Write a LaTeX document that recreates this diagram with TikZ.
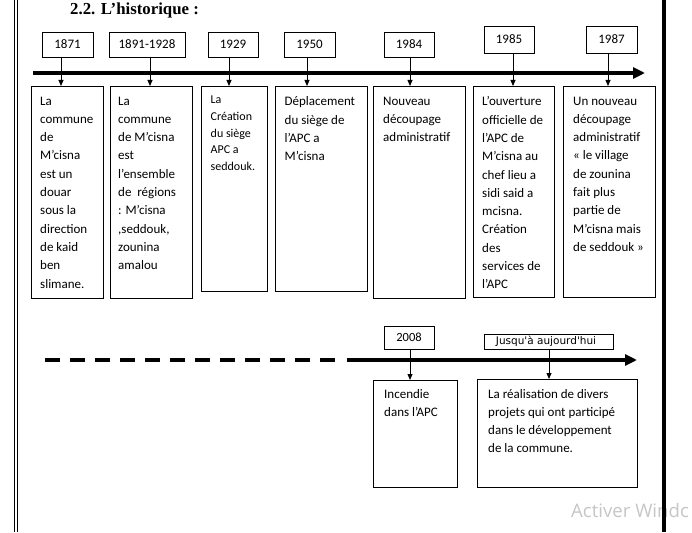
\documentclass[tikz,border=0pt]{standalone}
\usepackage{fontspec}
\setmainfont{Carlito}
\newfontfamily\titlefont{Liberation Serif}
\newfontfamily\jusqfont{DejaVu Sans}
\newfontfamily\wmfont{Open Sans}
\usetikzlibrary{arrows.meta,positioning}

\begin{document}
\begin{tikzpicture}[
  x=1pt, y=-1pt, >=Stealth,
  every node/.style={font=\fontsize{13}{15}\selectfont},
  yearbox/.style={draw, line width=0.8pt, minimum width=50pt, minimum height=25pt, inner sep=0pt},
  descbox/.style={draw, line width=0.8pt, anchor=north west, inner sep=0pt},
  desctext/.style={align=left, inner sep=0pt, font=\fontsize{13}{18.3}\selectfont},
  timeline/.style={line width=4pt, -{Triangle[length=12pt,width=11pt]}},
  evarrow/.style={line width=0.8pt, -{Triangle[length=6pt,width=5pt]}}
]
  \path[use as bounding box, fill=white] (0,0) rectangle (692,532);

  % Page frame
  \draw[line width=1pt] (14,0) -- (14,532);
  \draw[line width=1pt] (17,0) -- (17,532);

  % Watermark
  \node[anchor=base west, inner sep=0pt, text=gray!45, font=\wmfont\fontsize{18.6}{20}\selectfont] (wm) at (571,517) {Activer Windc};
  \draw[line width=4pt] (664,0) -- (664,532);

  % Title
  \node[anchor=base west, inner sep=0pt, font=\titlefont\bfseries\fontsize{16.8}{18}\selectfont] (title) at (70,14.5) {2.2. L’historique :};

  % Top year boxes
  \node[yearbox, minimum width=51pt] (y1871) at (67.5,44.5) {1871};
  \node[yearbox, minimum width=76pt] (y1891) at (147,44.5) {1891-1928};
  \node[yearbox] (y1929) at (233,44.5) {1929};
  \node[yearbox, minimum width=51pt] (y1950) at (309.5,44.5) {1950};
  \node[yearbox] (y1984) at (409,44.5) {1984};
  \node[yearbox, minimum height=27pt] (y1985) at (509,39.5) {1985};
  \node[yearbox, minimum width=51pt, minimum height=27pt] (y1987) at (611.5,39.5) {1987};

  % First time line
  \coordinate (tl1start) at (33,73);
  \coordinate (tl1end) at (645,73);
  \draw[timeline] (tl1start) -- (tl1end);

  % Description boxes
  \node[descbox, minimum width=72pt, minimum height=212pt] (d1871) at (31,86) {};
  \node[descbox, minimum width=82pt, minimum height=212pt] (d1891) at (110,86) {};
  \node[descbox, minimum width=66pt, minimum height=205pt] (d1929) at (201,86) {};
  \node[descbox, minimum width=92pt, minimum height=205pt] (d1950) at (275,86) {};
  \node[descbox, minimum width=92pt, minimum height=212pt] (d1984) at (373,86) {};
  \node[descbox, minimum width=81pt, minimum height=211pt] (d1985) at (473,86) {};
  \node[descbox, minimum width=92pt, minimum height=211pt] (d1987) at (563,86) {};

  \node[desctext, below right=10.5pt and 9pt of d1871.north west] (t1871)
    {La\\commune\\de\\M’cisna\\est un\\douar\\sous la\\direction\\de kaid\\ben\\slimane.};
  \node[desctext, below right=10.5pt and 8pt of d1891.north west] (t1891)
    {La\\commune\\de M’cisna\\est\\l’ensemble\\de \ régions\\: M’cisna\\,seddouk,\\zounina\\amalou};
  \node[desctext, below right=9.5pt and 9.5pt of d1929.north west,
        font=\fontsize{12}{16.8}\selectfont] (t1929)
    {La\\Création\\du siège\\APC a\\seddouk.};
  \node[desctext, below right=10.5pt and 9.5pt of d1950.north west] (t1950)
    {Déplacement\\du siège de\\l’APC a\\M’cisna};
  \node[desctext, below right=10.5pt and 10pt of d1984.north west] (t1984)
    {Nouveau\\découpage\\administratif};
  \node[desctext, below right=10.5pt and 9pt of d1985.north west] (t1985)
    {L’ouverture\\officielle de\\l’APC de\\M’cisna au\\chef lieu a\\sidi said a\\mcisna.\\Création\\des\\services de\\l’APC};
  \node[desctext, below right=10.5pt and 10pt of d1987.north west] (t1987)
    {Un nouveau\\découpage\\administratif\\« le village\\de zounina\\fait plus\\partie de\\M’cisna mais\\de seddouk »};

  % Year to description arrows
  \draw[evarrow] ([xshift=-6.5pt]y1871.south) -- ([xshift=-6.5pt]y1871.south |- d1871.north);
  \draw[evarrow] ([xshift=3pt]y1891.south) -- ([xshift=3pt]y1891.south |- d1891.north);
  \draw[evarrow] ([xshift=-4pt]y1929.south) -- ([xshift=-4pt]y1929.south |- d1929.north);
  \draw[evarrow] ([xshift=-2.5pt]y1950.south) -- ([xshift=-2.5pt]y1950.south |- d1950.north);
  \draw[evarrow] ([xshift=1pt]y1984.south) -- ([xshift=1pt]y1984.south |- d1984.north);
  \draw[evarrow] ([xshift=4pt]y1985.south) -- ([xshift=4pt]y1985.south |- d1985.north);
  \draw[evarrow] ([xshift=-3.5pt]y1987.south) -- ([xshift=-3.5pt]y1987.south |- d1987.north);

  % Second time line
  \coordinate (tl2dash) at (45,360);
  \coordinate (tl2gap) at (337,360);
  \coordinate (tl2start) at (347,360);
  \coordinate (tl2end) at (637,360);
  \draw[line width=4pt, dash pattern=on 15pt off 10pt] (tl2dash) -- (tl2gap);
  \draw[timeline] (tl2start) -- (tl2end);

  \node[yearbox, minimum height=23pt, font=\fontsize{12.5}{15}\selectfont] (y2008) at (409,337.5) {2008};
  \node[yearbox, minimum width=129pt, minimum height=15pt] (yjusq) at (548.5,341.5) {};
  \begin{scope}
    \clip (yjusq.north west) rectangle ([yshift=3.5pt]yjusq.south east);
    \node[anchor=base, inner sep=0pt, font=\jusqfont\fontsize{10.5}{12}\selectfont] (tjusq) at (546,344.3)
      {Jusqu\textquotesingle à aujourd\textquotesingle hui};
  \end{scope}

  \node[descbox, minimum width=84pt, minimum height=107pt] (dinc) at (373,380) {};
  \node[descbox, minimum width=160pt, minimum height=108pt] (dreal) at (477,379) {};

  \node[desctext, below right=9.5pt and 11pt of dinc.north west,
        font=\fontsize{13}{17.7}\selectfont] (tinc)
    {Incendie\\dans l’APC};
  \node[desctext, below right=10.5pt and 11pt of dreal.north west,
        font=\fontsize{13}{18}\selectfont] (treal)
    {La réalisation de divers\\projets qui ont participé\\dans le développement\\de la commune.};

  \draw[evarrow] ([xshift=1pt]y2008.south) -- ([xshift=1pt]y2008.south |- dinc.north);
  \draw[evarrow] ([xshift=0.5pt]yjusq.south) -- ([xshift=0.5pt]yjusq.south |- dreal.north);
\end{tikzpicture}
\end{document}
